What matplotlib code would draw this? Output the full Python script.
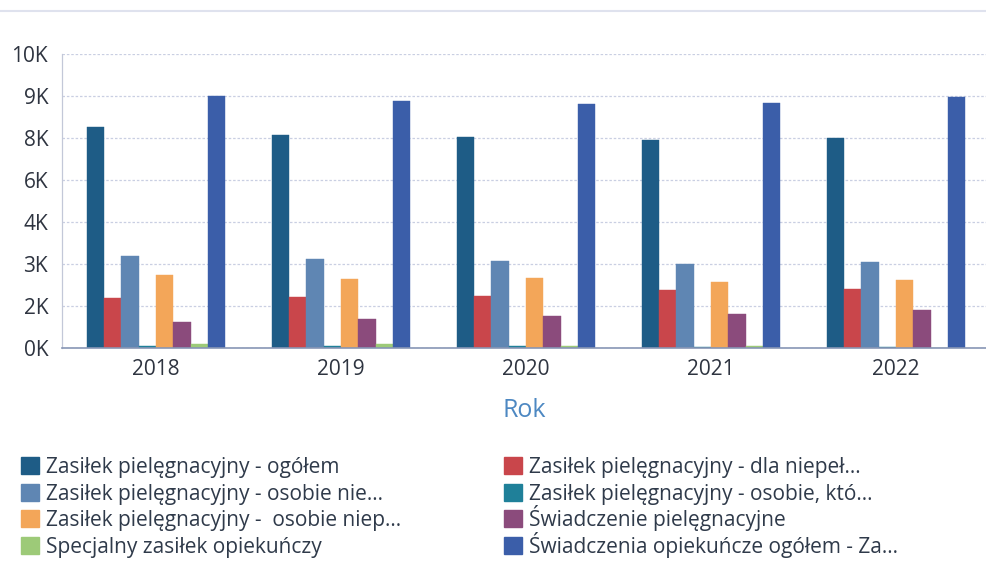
import matplotlib.pyplot as plt
from matplotlib.patches import Patch
from matplotlib.ticker import FuncFormatter, MultipleLocator
import matplotlib.lines as mlines
import numpy as np

plt.rcParams['font.family'] = ['Open Sans', 'DejaVu Sans']

years = ['2018', '2019', '2020', '2021', '2022']

series_names = [
    'Zasiłek pielęgnacyjny - ogółem',
    'Zasiłek pielęgnacyjny - dla niepeł...',
    'Zasiłek pielęgnacyjny - osobie nie...',
    'Zasiłek pielęgnacyjny - osobie, któ...',
    'Zasiłek pielęgnacyjny -  osobie niep...',
    'Świadczenie pielęgnacyjne',
    'Specjalny zasiłek opiekuńczy',
    'Świadczenia opiekuńcze ogółem - Za...',
]

# values per series, one per year
zp_ogolem = [7910, 7630, 7560, 7440, 7500]
zp_niepel = [1810, 1840, 1850, 2070, 2130]
zp_osobie_nie = [3300, 3200, 3130, 3010, 3090]
zp_osobie_kto = [70, 80, 70, 40, 30]
zp_osobie_niep = [2600, 2490, 2500, 2360, 2440]
swiadczenie_piel = [950, 1060, 1150, 1210, 1380]
specjalny = [140, 170, 90, 90, 0]
swiadczenia_ogolem = [9010, 8810, 8730, 8740, 8960]

values = [zp_ogolem, zp_niepel, zp_osobie_nie, zp_osobie_kto,
          zp_osobie_niep, swiadczenie_piel, specjalny, swiadczenia_ogolem]

colors = ['#1e5c86', '#c9464b', '#5f86b3', '#1f8099',
          '#f3a659', '#8b4b7c', '#9dca78', '#3b5ea9']

fig = plt.figure(figsize=(9.86, 5.70), dpi=100)
ax = fig.add_axes([0.0629, 0.389, 0.9371, 0.516])

x = np.arange(len(years))
n = len(values)
w = 0.0935
for i, (vals, c) in enumerate(zip(values, colors)):
    offs = (i - (n - 1) / 2) * w
    ax.bar(x + offs, vals, width=w, color=c, edgecolor=c, linewidth=0.3,
           zorder=3)

ax.set_xlim(-0.508, 4.487)
ax.set_ylim(0, 10500)
# 1.5K steps, labels rounded to whole thousands
ax.yaxis.set_major_locator(MultipleLocator(1500))
ax.yaxis.set_major_formatter(FuncFormatter(lambda v, p: f'{round(v / 1000)}K'))
ax.set_xticks(x)
ax.set_xticklabels(years)
ax.tick_params(axis='both', length=0, labelsize=15, colors='#2e3440')
ax.tick_params(axis='y', pad=10)
ax.tick_params(axis='x', pad=8)
ax.grid(axis='y', color='#c9cfe2', linestyle=(0, (2, 1.5)), linewidth=0.9,
        zorder=0)

for s in ['top', 'right']:
    ax.spines[s].set_visible(False)
ax.spines['left'].set_color('#c3c8d8')
ax.spines['left'].set_linewidth(0.9)
ax.spines['bottom'].set_color('#8796b5')
ax.spines['bottom'].set_linewidth(1.2)
ax.spines['bottom'].set_zorder(4)

ax.set_xlabel('Rok', fontsize=18, color='#4d88c2', labelpad=13)

# faint separator at the very top
fig.add_artist(mlines.Line2D([0, 1], [0.981, 0.981], color='#dfe2ee',
                             linewidth=1.5, transform=fig.transFigure))

# legend: two columns, one entry per row, baselines aligned
leg_kw = dict(frameon=False, fontsize=15, handlelength=0.87,
              handleheight=0.87, handletextpad=0.34,
              borderaxespad=0, borderpad=0, labelcolor='#2f3a4a',
              loc='lower left')
row_y = [0.1614, 0.1149, 0.0684, 0.0219]
col_x = [0.021, 0.511]
for k, (c, lab) in enumerate(zip(colors, series_names)):
    h = Patch(facecolor=c, edgecolor=c, label=lab)
    fig.legend(handles=[h], bbox_to_anchor=(col_x[k % 2], row_y[k // 2]),
               **leg_kw)

fig.savefig('out.png', dpi=100)
